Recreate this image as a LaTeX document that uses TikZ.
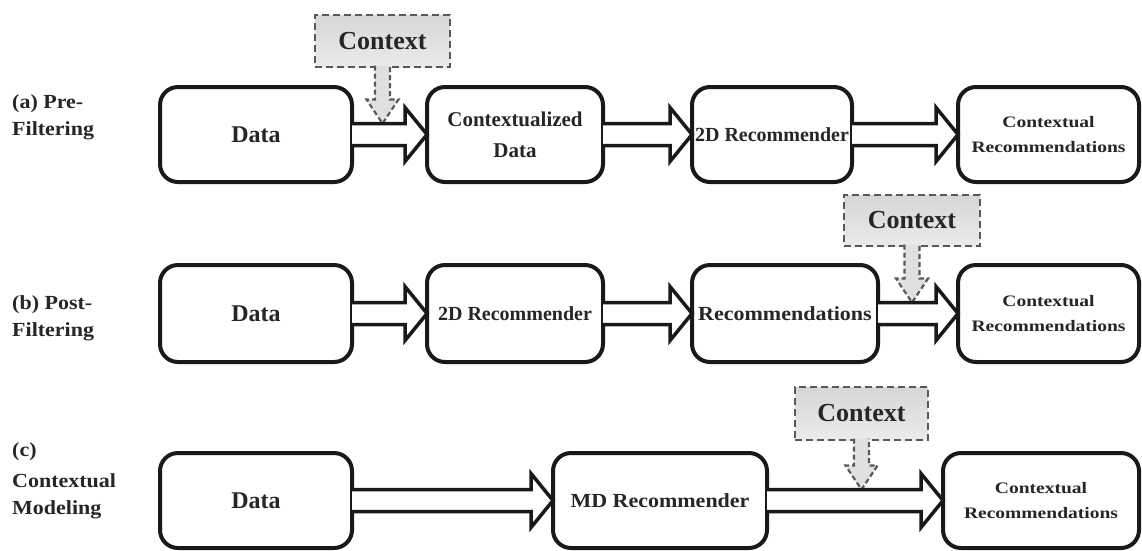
\documentclass[tikz,border=0pt]{standalone}
\usepackage{fontspec}
\setmainfont{Liberation Serif}
\usepackage{graphicx}
\usetikzlibrary{calc}

% horizontal stretch of a line of text
\newcommand\hs[2]{\scalebox{#1}[1]{#2}}

% hollow block arrow between two boxes of the same row
\newcommand\harrow[2]{%
  \draw[hollow] let \p1=(#1.east), \p2=(#2.west) in
    (\x1,\y1+11pt) -- (\x2-22pt,\y1+11pt) -- (\x2-22pt,\y1+27pt) -- (\x2,\y1)
    -- (\x2-22pt,\y1-27pt) -- (\x2-22pt,\y1-11pt) -- (\x1,\y1-11pt);}

% dashed context arrow from a context box down onto a hollow arrow
\newcommand\carrow[2]{%
  \draw[ctxarrow] let \p1=(#1.south), \p2=(#2.east) in
    (\x1-7.5pt,\y1+1.5pt) -- (\x1-7.5pt,\y2+35pt) -- (\x1-16pt,\y2+35pt)
    -- (\x1,\y2+11pt) -- (\x1+16pt,\y2+35pt) -- (\x1+7.5pt,\y2+35pt)
    -- (\x1+7.5pt,\y1+1.5pt);}

\begin{document}
\begin{tikzpicture}[x=1pt,y=-1pt,
  box/.style={draw=black!90, line width=4pt, rounded corners=18pt, fill=white,
    inner sep=0pt, outer sep=0pt, align=center, text=black!85,
    font=\bfseries\fontsize{20}{25}\selectfont},
  databox/.style={box, font=\bfseries\fontsize{24}{28}\selectfont},
  ctxrec/.style={box, font=\bfseries\fontsize{16}{25}\selectfont},
  ctx/.style={draw=black!65, dash pattern=on 7pt off 4pt, line width=2.8pt,
    top color=black!16, bottom color=black!8, inner sep=0pt, outer sep=0pt,
    text=black!85, font=\bfseries\fontsize{26}{30}\selectfont},
  hollow/.style={draw=black!90, fill=white, line width=3.5pt},
  ctxarrow/.style={draw=black!65, dash pattern=on 5pt off 3pt, line width=2.2pt,
    fill=black!12},
  lbl/.style={anchor=base west, inner sep=0pt, text=black!85,
    font=\bfseries\fontsize{20}{26}\selectfont},
]
\useasboundingbox (0,0) rectangle (1142,550);

% row labels
\node[lbl] (la1) at (12,108) {\hs{1.1}{(a) Pre-}};
\node[lbl] (la2) at (12,135) {\hs{1.1}{Filtering}};
\node[lbl] (lb1) at (12,309) {\hs{1.1}{(b) Post-}};
\node[lbl] (lb2) at (12,336) {\hs{1.1}{Filtering}};
\node[lbl] (lc1) at (12,456) {\hs{1.1}{(c)}};
\node[lbl] (lc2) at (12,487) {\hs{1.1}{Contextual}};
\node[lbl] (lc3) at (12,514) {\hs{1.1}{Modeling}};

% context boxes
\node[ctx, minimum width=135pt, minimum height=52pt] (ka) at (382.5,41) {Context};
\node[ctx, minimum width=136pt, minimum height=51pt] (kb) at (912,220.5) {Context};
\node[ctx, minimum width=133pt, minimum height=53pt] (kc) at (861.5,413.5) {Context};

% row (a): pre-filtering
\node[databox, minimum width=192pt, minimum height=95pt] (a1) at (256,134.5) {Data};
\node[box, minimum width=176pt, minimum height=95pt,
      font=\bfseries\fontsize{21}{31}\selectfont] (a2) at (515,134.5) {Contextualized\\Data};
\node[box, minimum width=160pt, minimum height=95pt] (a3) at (772,134.5) {2D Recommender};
\node[ctxrec, minimum width=181pt, minimum height=95pt] (a4) at (1048.5,134.5)
  {\hs{1.22}{Contextual}\\\hs{1.22}{Recommendations}};

% row (b): post-filtering
\node[databox, minimum width=192pt, minimum height=97pt] (b1) at (256,313.5) {Data};
\node[box, minimum width=176pt, minimum height=97pt] (b2) at (515,313.5) {2D Recommender};
\node[box, minimum width=186pt, minimum height=97pt] (b3) at (785,313.5) {\hs{1.1}{Recommendations}};
\node[ctxrec, minimum width=181pt, minimum height=97pt] (b4) at (1048.5,313.5)
  {\hs{1.22}{Contextual}\\\hs{1.22}{Recommendations}};

% row (c): contextual modeling
\node[databox, minimum width=192pt, minimum height=95pt] (c1) at (256,500.5) {Data};
\node[box, minimum width=214pt, minimum height=95pt] (c2) at (660,500.5) {\hs{1.1}{MD Recommender}};
\node[ctxrec, minimum width=196pt, minimum height=95pt] (c3) at (1041,500.5)
  {\hs{1.22}{Contextual}\\\hs{1.22}{Recommendations}};

% context arrows
\carrow{ka}{a1}
\carrow{kb}{b3}
\carrow{kc}{c2}

% flow arrows
\harrow{a1}{a2}
\harrow{a2}{a3}
\harrow{a3}{a4}
\harrow{b1}{b2}
\harrow{b2}{b3}
\harrow{b3}{b4}
\harrow{c1}{c2}
\harrow{c2}{c3}
\end{tikzpicture}
\end{document}
